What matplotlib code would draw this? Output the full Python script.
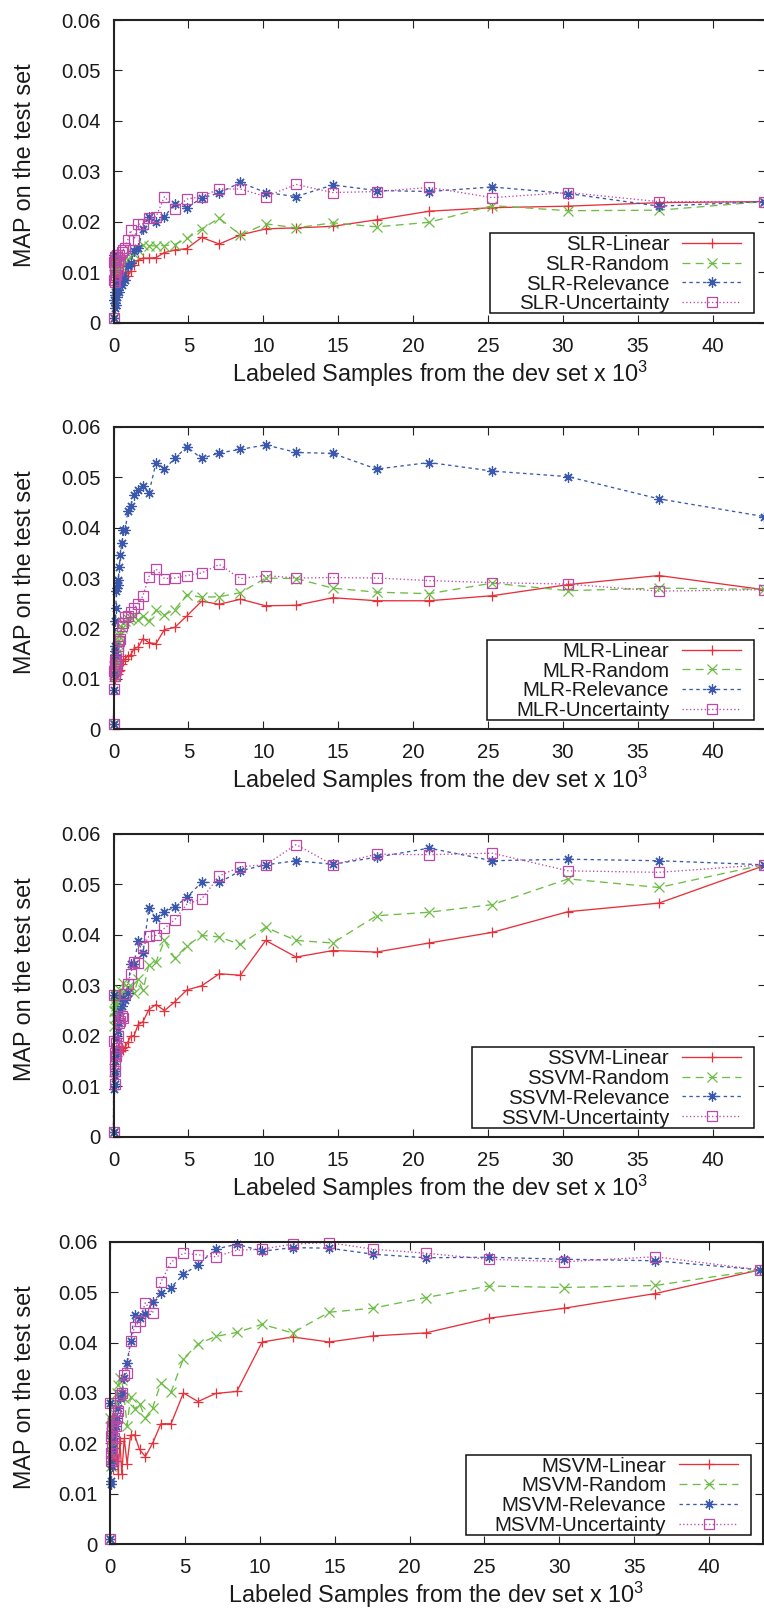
import matplotlib
matplotlib.use("Agg")
import matplotlib.pyplot as plt
from matplotlib.patches import Rectangle

plt.rcParams['font.family'] = ['Liberation Sans', 'DejaVu Sans']
plt.rcParams['mathtext.fontset'] = 'custom'
plt.rcParams['mathtext.rm'] = 'Liberation Sans'
plt.rcParams['mathtext.it'] = 'Liberation Sans:italic'
plt.rcParams['mathtext.bf'] = 'Liberation Sans:bold'

# ---------------- data ----------------
X = [0.0, 0.03, 0.05, 0.07, 0.09, 0.11, 0.13, 0.16, 0.19, 0.22, 0.27, 0.32, 0.38,
     0.46, 0.55, 0.66, 0.79, 0.95, 1.14, 1.37, 1.64, 1.97, 2.36, 2.84, 3.40, 4.08,
     4.90, 5.88, 7.06, 8.47, 10.16, 12.19, 14.63, 17.56, 21.07, 25.28, 30.34, 36.40, 43.40]

x_ticks = [0, 5, 10, 15, 20, 25, 30, 35, 40]
y_ticks = [0, 0.01, 0.02, 0.03, 0.04, 0.05, 0.06]
y_tick_labels = ['0', '0.01', '0.02', '0.03', '0.04', '0.05', '0.06']

models = ['SLR', 'MLR', 'SSVM', 'MSVM']
strategies = ['Linear', 'Random', 'Relevance', 'Uncertainty']

SLR_linear = [0.001, 0.008, 0.0105, 0.009, 0.011, 0.0085, 0.0095, 0.011, 0.008, 0.0095, 0.0105, 0.009, 0.0092,
              0.0085, 0.0100, 0.0095, 0.0098, 0.0092, 0.0102, 0.0115, 0.0124, 0.0128, 0.0128, 0.0129, 0.0139,
              0.0144, 0.0147, 0.0169, 0.0156, 0.0174, 0.0186, 0.0188, 0.0191, 0.0204, 0.0221, 0.0228, 0.0231,
              0.0238, 0.0240]
SLR_random = [0.001, 0.012, 0.010, 0.0125, 0.011, 0.013, 0.0105, 0.012, 0.011, 0.0125, 0.0115, 0.012, 0.0105,
              0.012, 0.0125, 0.0115, 0.013, 0.0125, 0.013, 0.0137, 0.0144, 0.0155, 0.0153, 0.0152, 0.0153,
              0.0155, 0.0167, 0.0186, 0.0207, 0.0174, 0.0196, 0.0188, 0.0198, 0.0190, 0.0199, 0.0232, 0.0222,
              0.0223, 0.0240]
SLR_relevance = [0.001, 0.0135, 0.0045, 0.003, 0.006, 0.004, 0.0055, 0.0035, 0.007, 0.005, 0.0065, 0.008, 0.006,
                 0.0085, 0.0075, 0.0095, 0.0085, 0.0112, 0.0118, 0.0143, 0.0148, 0.0185, 0.0209, 0.0200, 0.0210,
                 0.0236, 0.0228, 0.0247, 0.0257, 0.0278, 0.0258, 0.0250, 0.0273, 0.0262, 0.0260, 0.0269, 0.0256,
                 0.0231, 0.0240]
SLR_uncertainty = [0.001, 0.012, 0.0085, 0.013, 0.0095, 0.011, 0.008, 0.0125, 0.0095, 0.0135, 0.0105, 0.012, 0.0135,
                   0.0125, 0.014, 0.0145, 0.0148, 0.0164, 0.0183, 0.0164, 0.0195, 0.0196, 0.0207, 0.0210, 0.0250,
                   0.0225, 0.0245, 0.0250, 0.0265, 0.0265, 0.0250, 0.0274, 0.0258, 0.0260, 0.0268, 0.0248, 0.0258,
                   0.0240, 0.0240]

MLR_linear = [0.001, 0.0095, 0.011, 0.010, 0.0115, 0.0105, 0.0112, 0.0108, 0.012, 0.011, 0.0115, 0.011, 0.0115,
              0.0118, 0.0130, 0.0136, 0.0140, 0.0146, 0.0147, 0.0160, 0.0163, 0.0180, 0.0172, 0.0170, 0.0198,
              0.0202, 0.0225, 0.0254, 0.0248, 0.0258, 0.0245, 0.0246, 0.0261, 0.0255, 0.0255, 0.0265, 0.0287,
              0.0305, 0.0277]
MLR_random = [0.001, 0.011, 0.0125, 0.0105, 0.013, 0.012, 0.014, 0.0135, 0.015, 0.016, 0.0175, 0.017, 0.0185,
              0.019, 0.0200, 0.0210, 0.0215, 0.0218, 0.0220, 0.0224, 0.0216, 0.0225, 0.0214, 0.0236, 0.0227,
              0.0237, 0.0267, 0.0262, 0.0263, 0.0271, 0.0300, 0.0299, 0.0280, 0.0272, 0.0269, 0.0290, 0.0275,
              0.0280, 0.0278]
MLR_relevance = [0.001, 0.0078, 0.011, 0.0147, 0.0165, 0.0155, 0.0215, 0.024, 0.0275, 0.028, 0.0287, 0.0296, 0.0322,
                 0.0346, 0.0369, 0.0395, 0.0395, 0.0432, 0.0443, 0.0465, 0.0475, 0.0483, 0.0468, 0.0529, 0.0516,
                 0.0537, 0.0560, 0.0537, 0.0548, 0.0555, 0.0564, 0.0549, 0.0547, 0.0516, 0.0529, 0.0512, 0.0501,
                 0.0457, 0.0422]
MLR_uncertainty = [0.001, 0.008, 0.0115, 0.0105, 0.0125, 0.011, 0.0135, 0.012, 0.014, 0.013, 0.0155, 0.0165, 0.0175,
                   0.018, 0.0205, 0.021, 0.0222, 0.0224, 0.0232, 0.0240, 0.0249, 0.0265, 0.0303, 0.0318, 0.0299,
                   0.0300, 0.0305, 0.0310, 0.0327, 0.0299, 0.0305, 0.0300, 0.0301, 0.0300, 0.0295, 0.0291, 0.0288,
                   0.0274, 0.0277]

SSVM_linear = [0.001, 0.012, 0.0145, 0.013, 0.0155, 0.014, 0.0165, 0.015, 0.017, 0.016, 0.0175, 0.0165, 0.018,
               0.017, 0.0175, 0.0172, 0.0178, 0.0187, 0.0199, 0.0200, 0.0222, 0.0228, 0.0252, 0.0262, 0.0250,
               0.0267, 0.0291, 0.0299, 0.0323, 0.0320, 0.0389, 0.0356, 0.0369, 0.0366, 0.0384, 0.0405, 0.0446,
               0.0463, 0.0537]
SSVM_random = [0.001, 0.025, 0.022, 0.0265, 0.0235, 0.027, 0.025, 0.028, 0.026, 0.0275, 0.0255, 0.0285, 0.027,
               0.029, 0.028, 0.0305, 0.0285, 0.0297, 0.0299, 0.0284, 0.0312, 0.0290, 0.0341, 0.0346, 0.0389,
               0.0354, 0.0378, 0.0399, 0.0396, 0.0381, 0.0415, 0.0389, 0.0384, 0.0438, 0.0445, 0.0460, 0.0511,
               0.0494, 0.0539]
SSVM_relevance = [0.001, 0.028, 0.0095, 0.012, 0.0105, 0.015, 0.013, 0.017, 0.016, 0.0195, 0.021, 0.0235, 0.0225,
                  0.025, 0.026, 0.0275, 0.0270, 0.0285, 0.0342, 0.0342, 0.0387, 0.0364, 0.0453, 0.0433, 0.0446,
                  0.0455, 0.0475, 0.0504, 0.0504, 0.0527, 0.0539, 0.0547, 0.0540, 0.0554, 0.0572, 0.0547, 0.0550,
                  0.0547, 0.0539]
SSVM_uncertainty = [0.001, 0.028, 0.019, 0.0145, 0.0105, 0.013, 0.0165, 0.016, 0.0185, 0.0175, 0.020, 0.0235, 0.0225,
                    0.023, 0.024, 0.0235, 0.0283, 0.0303, 0.0323, 0.0346, 0.0345, 0.0376, 0.0397, 0.0399, 0.0413,
                    0.0430, 0.0461, 0.0471, 0.0517, 0.0535, 0.0539, 0.0579, 0.0539, 0.0560, 0.0559, 0.0562, 0.0527,
                    0.0524, 0.0539]

MSVM_linear = [0.001, 0.020, 0.016, 0.024, 0.018, 0.022, 0.0165, 0.0205, 0.015, 0.019, 0.0175, 0.021, 0.0165,
               0.020, 0.014, 0.0205, 0.014, 0.021, 0.016, 0.0216, 0.0217, 0.0188, 0.0174, 0.0200, 0.0239,
               0.0239, 0.0300, 0.0283, 0.0299, 0.0303, 0.0401, 0.0411, 0.0401, 0.0413, 0.0419, 0.0448, 0.0468,
               0.0497, 0.0544]
MSVM_random = [0.001, 0.025, 0.018, 0.022, 0.0155, 0.020, 0.024, 0.019, 0.0225, 0.021, 0.026, 0.0235, 0.028,
               0.030, 0.0315, 0.033, 0.0325, 0.029, 0.0235, 0.0292, 0.0268, 0.0279, 0.0250, 0.0270, 0.0320,
               0.0302, 0.0368, 0.0397, 0.0412, 0.0420, 0.0436, 0.0419, 0.0460, 0.0468, 0.0489, 0.0512, 0.0509,
               0.0513, 0.0544]
MSVM_relevance = [0.001, 0.028, 0.012, 0.0125, 0.016, 0.0185, 0.0155, 0.021, 0.019, 0.0225, 0.0215, 0.024, 0.0235,
                  0.025, 0.027, 0.029, 0.030, 0.033, 0.036, 0.0403, 0.0455, 0.0449, 0.0456, 0.0480, 0.0498,
                  0.0509, 0.0535, 0.0554, 0.0585, 0.0595, 0.0581, 0.0588, 0.0587, 0.0575, 0.0568, 0.0569, 0.0565,
                  0.0562, 0.0544]
MSVM_uncertainty = [0.001, 0.028, 0.0165, 0.0215, 0.018, 0.0235, 0.0195, 0.0225, 0.017, 0.0245, 0.021, 0.0265, 0.0235,
                    0.025, 0.0265, 0.0295, 0.030, 0.0335, 0.034, 0.0403, 0.0431, 0.0442, 0.0479, 0.0458, 0.0520,
                    0.0559, 0.0577, 0.0574, 0.0570, 0.0583, 0.0585, 0.0595, 0.0598, 0.0585, 0.0577, 0.0565, 0.0560,
                    0.0570, 0.0544]

panel_series = [
    [SLR_linear, SLR_random, SLR_relevance, SLR_uncertainty],
    [MLR_linear, MLR_random, MLR_relevance, MLR_uncertainty],
    [SSVM_linear, SSVM_random, SSVM_relevance, SSVM_uncertainty],
    [MSVM_linear, MSVM_random, MSVM_relevance, MSVM_uncertainty],
]

# ---------------- styles / layout ----------------
styles = [
    dict(color='#e8303a', linestyle='-', marker='+'),
    dict(color='#6cbd45', linestyle=(0, (6, 4)), marker='x'),
    dict(color='#3a58ad', linestyle=(0, (2.6, 2.6)), marker=(8, 2, 0)),
    dict(color='#bd48a6', linestyle=(0, (1, 1.8)), marker='s'),
]

FW, FH = 764.0, 1609.0
ax_left = [113.5, 113.5, 113.5, 110.0]
ax_width = [652.5, 652.5, 652.5, 653.0]
ax_top = [20.0, 426.7, 834.0, 1241.6]
ax_h = 302.7
x_max = [43.55, 43.55, 43.55, 43.6]

fig = plt.figure(figsize=(FW / 100, FH / 100), dpi=100)

axes = []
legends = []
for i in range(4):
    L, W, T = ax_left[i], ax_width[i], ax_top[i]
    ax = fig.add_axes([L / FW, 1 - (T + ax_h) / FH, W / FW, ax_h / FH])
    for s, (vals, st) in enumerate(zip(panel_series[i], styles)):
        ms = 6.8 if st['marker'] == 's' else 7.2
        ax.plot(X, vals, label=f'{models[i]}-{strategies[s]}', color=st['color'],
                linestyle=st['linestyle'], marker=st['marker'], markersize=ms,
                markerfacecolor='none', markeredgewidth=0.9, linewidth=0.95,
                clip_on=False, zorder=2 + s * 0.1)
    ax.set_xlim(0, x_max[i])
    ax.set_ylim(0, 0.06)
    ax.set_xticks(x_ticks)
    ax.set_xticklabels([str(t) for t in x_ticks])
    ax.set_yticks(y_ticks)
    ax.set_yticklabels(y_tick_labels)
    ax.tick_params(axis='both', direction='in', top=True, right=True, length=5.8,
                   width=0.8, color='#222222', labelsize=14.6, labelcolor='#1a1a1a')
    ax.tick_params(axis='x', pad=10)
    ax.tick_params(axis='y', pad=9)
    for sp in ax.spines.values():
        sp.set_linewidth(1.5)
        sp.set_color('#222222')
    ax.set_xlabel(r'Labeled Samples from the dev set x $10^3$', fontsize=16.8,
                  color='#1a1a1a', va='baseline')
    ax.xaxis.set_label_coords(0.5, -59.0 / ax_h)
    ax.set_ylabel('MAP on the test set', fontsize=16.8, color='#1a1a1a', va='baseline')
    ax.yaxis.set_label_coords((31.0 - L) / W, 0.52)

    leg = ax.legend(loc='lower right', bbox_to_anchor=(1 - 25.0 / W, 9.2 / ax_h),
                    frameon=False, markerfirst=False, fontsize=14.8, borderpad=0,
                    borderaxespad=0, handlelength=2.86, handletextpad=0.63,
                    labelspacing=0.04, numpoints=1)
    leg.set_zorder(6)
    for t in leg.get_texts():
        t.set_color('#1a1a1a')
    axes.append(ax)
    legends.append(leg)

fig.canvas.draw()
inv = fig.transFigure.inverted()
for ax, leg in zip(axes, legends):
    bb = leg.get_window_extent()
    x0 = bb.x0 - 29.0
    x1 = bb.x1 + 13.0
    y0 = bb.y0
    y1 = bb.y1 + 2.0
    (fx0, fy0) = inv.transform((x0, y0))
    (fx1, fy1) = inv.transform((x1, y1))
    rect = Rectangle((fx0, fy0), fx1 - fx0, fy1 - fy0, transform=fig.transFigure,
                     facecolor='white', edgecolor='#111111', linewidth=1.1,
                     zorder=5, clip_on=False)
    ax.add_patch(rect)

fig.savefig('out.png', dpi=100)
